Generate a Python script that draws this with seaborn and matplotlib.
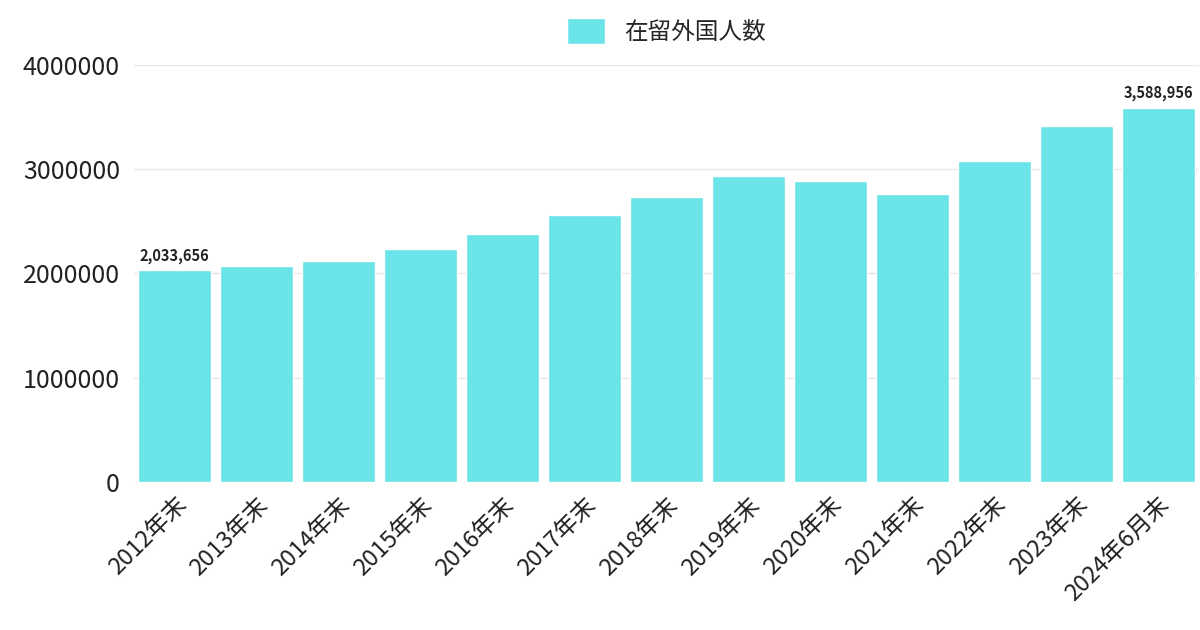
import seaborn as sns
import matplotlib.pyplot as plt
import pandas as pd

# Data
years = ["2012年末", "2013年末", "2014年末", "2015年末", "2016年末", "2017年末", "2018年末",
         "2019年末", "2020年末", "2021年末", "2022年末", "2023年末", "2024年6月末"]
residents = [2033656, 2066445, 2121831, 2232189, 2382822, 2561848, 2731093,
             2933137, 2887116, 2760635, 3075213, 3410992, 3588956]
series_name = "在留外国人数"

sns.set_theme(style="white")
plt.rcParams['font.family'] = ['Noto Sans CJK JP', 'DejaVu Sans']

df = pd.DataFrame({"year": years, "value": residents})

fig = plt.figure(figsize=(12, 6.3), dpi=100)
ax = fig.add_axes([0.1115, 0.235, 0.888, 0.662])
sns.barplot(data=df, x="year", y="value", color="#6ae4e8", saturation=1,
            width=0.89, ax=ax, label=series_name)

ax.set_ylim(0, 4000000)
ax.set_yticks([0, 1000000, 2000000, 3000000, 4000000])
ax.set_yticklabels(["0", "1000000", "2000000", "3000000", "4000000"], fontsize=18, color="#222222")
ax.yaxis.grid(True, color="#e6e6e6", linewidth=1)
ax.set_axisbelow(True)
ax.tick_params(axis="x", labelsize=17, rotation=45, labelcolor="#222222", pad=2)
ax.tick_params(axis="y", pad=4)
for lbl in ax.get_xticklabels():
    lbl.set_ha("right")
    lbl.set_rotation_mode("anchor")
ax.set_xlabel("")
ax.set_ylabel("")
sns.despine(ax=ax, left=True, bottom=True)
ax.set_xlim(-0.5, len(years) - 0.5)

for i in [0, len(years) - 1]:
    ax.text(i, residents[i] + 60000, f"{residents[i]:,}", ha="center", va="bottom",
            fontsize=10.5, fontweight="bold", color="#222222")

ax.legend(loc="lower center", bbox_to_anchor=(0.5, 1.0), frameon=False, fontsize=17,
          handlelength=1.6, handleheight=1.3)

fig.savefig("out.png", dpi=100)
